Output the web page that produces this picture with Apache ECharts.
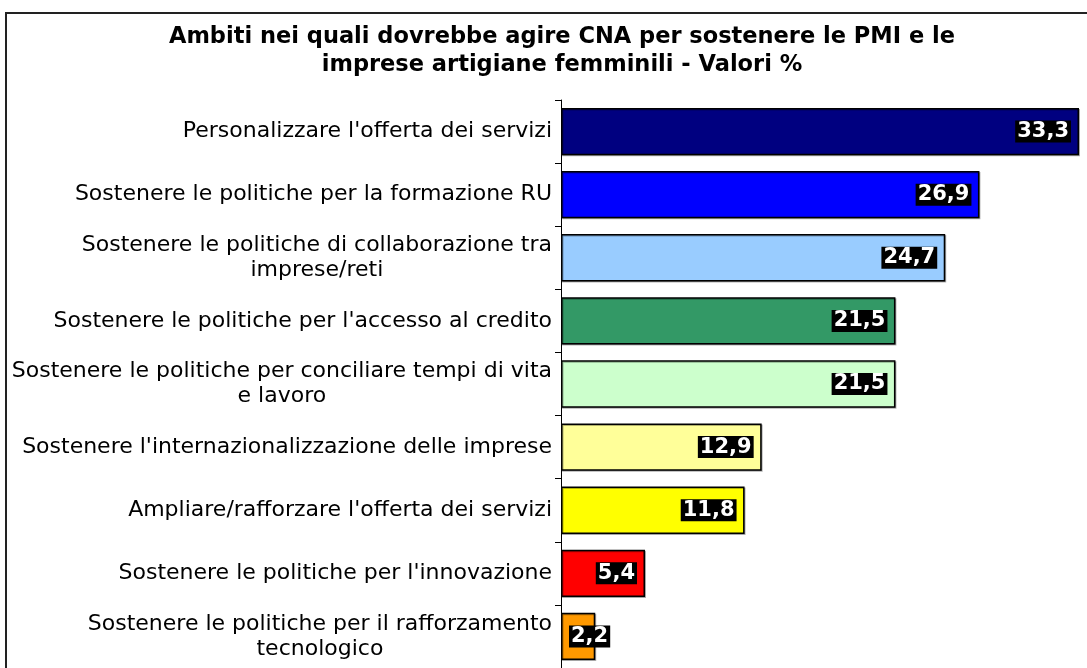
<!DOCTYPE html>
<html>
<head>
<meta charset="utf-8">
<script src="https://cdn.jsdelivr.net/npm/echarts@6/dist/echarts.min.js"></script>
<style>html,body{margin:0;padding:0;background:#fff;}#c{width:1087px;height:668px;}</style>
</head>
<body>
<div id="c"></div>
<script>
const titleText = "Ambiti nei quali dovrebbe agire CNA per sostenere le PMI e le\nimprese artigiane femminili - Valori %";
const categories = [
  "Personalizzare l'offerta dei servizi",
  "Sostenere le politiche per la formazione RU",
  "Sostenere le politiche di collaborazione tra\nimprese/reti",
  "Sostenere le politiche per l'accesso al credito",
  "Sostenere le politiche per conciliare tempi di vita\ne lavoro",
  "Sostenere l'internazionalizzazione delle imprese",
  "Ampliare/rafforzare l'offerta dei servizi",
  "Sostenere le politiche per l'innovazione",
  "Sostenere le politiche per il rafforzamento\ntecnologico"
];
const values = [33.3, 26.9, 24.7, 21.5, 21.5, 12.9, 11.8, 5.4, 2.2];
const barColors = ["#000080", "#0000FF", "#99CCFF", "#339966", "#CCFFCC", "#FFFF99", "#FFFF00", "#FF0000", "#FF9900"];

const chart = echarts.init(document.getElementById('c'), null, {renderer: 'canvas'});
chart.setOption({
  backgroundColor: '#fff',
  animation: false,
  title: {
    text: titleText,
    left: 557, top: 18, textAlign: 'center',
    textStyle: {fontFamily: 'DejaVu Sans', fontWeight: 'bold', fontSize: 22.5, lineHeight: 28, color: '#000'}
  },
  graphic: [{
    type: 'rect', shape: {x: 6, y: 13, width: 1100, height: 700},
    style: {fill: 'none', stroke: '#222', lineWidth: 2}, silent: true, z: 100
  }],
  grid: {left: 561, top: 100, width: 518, height: 576, containLabel: false},
  xAxis: {type: 'value', min: 0, max: 33.3, show: false},
  yAxis: {
    type: 'category', inverse: true, data: categories,
    axisLine: {show: true, lineStyle: {color: '#000', width: 1}},
    axisTick: {show: true, length: 6, lineStyle: {color: '#000'}},
    axisLabel: {
      margin: 9, color: '#000', fontFamily: 'DejaVu Sans', fontSize: 22, lineHeight: 25,
      formatter: function (v) { return v.split('\n').map(function (l) { return '{c|' + l + '}'; }).join('\n'); },
      rich: {c: {align: 'center', fontFamily: 'DejaVu Sans', fontSize: 22, lineHeight: 25, color: '#000'}}
    }
  },
  series: [{
    type: 'bar', barCategoryGap: '25%',
    data: values.map(function (v, i) {
      const d = {value: v, itemStyle: {color: barColors[i]}};
      if (v < 4) d.label = {position: 'insideLeft'};
      return d;
    }),
    itemStyle: {borderColor: '#000', borderWidth: 1.5, shadowColor: 'rgba(0,0,0,0.3)', shadowOffsetX: 1, shadowOffsetY: 1},
    label: {
      show: true, position: 'insideRight', distance: 8,
      formatter: function (p) { return p.value.toFixed(1).replace('.', ','); },
      color: '#fff', backgroundColor: '#000', fontFamily: 'DejaVu Sans', fontWeight: 'bold', fontSize: 21,
      padding: [1, 2, 0, 2], lineHeight: 21
    }
  }]
});
</script>
</body>
</html>
